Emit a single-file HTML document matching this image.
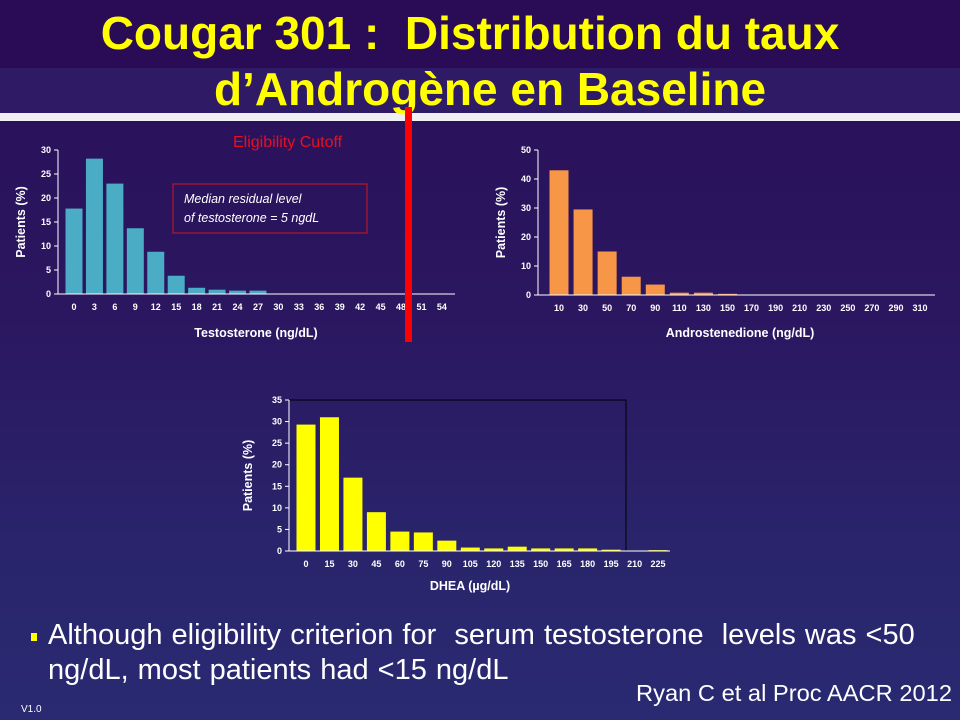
<!DOCTYPE html>
<html><head><meta charset="utf-8">
<style>
html,body{margin:0;padding:0}
body{width:960px;height:720px;overflow:hidden;position:relative;font-family:"Liberation Sans",sans-serif;
background:linear-gradient(180deg,#2a0f58 0px,#2b1660 300px,#29256c 560px,#292a72 720px)}
.t{position:absolute;color:#ffff00;font-family:"Liberation Sans Narrow","Liberation Sans",sans-serif;font-weight:bold;font-size:46px;text-align:center;width:960px;left:-10px;white-space:nowrap}
</style></head><body>
<div style="position:absolute;left:0;top:0;width:960px;height:68px;background:#2a0b55"></div>
<div style="position:absolute;left:0;top:68px;width:960px;height:45px;background:#2f1a66"></div>
<div style="position:absolute;left:0;top:113px;width:960px;height:8px;background:#f0f0f4"></div>
<div class="t" style="top:6px">Cougar 301 :&nbsp; Distribution du taux</div>
<div class="t" style="top:62px;left:10px">d’Androgène en Baseline</div>
<svg width="960" height="720" style="position:absolute;left:0;top:0" font-family="Liberation Sans, sans-serif">
<g id="c1"></g>
<g id="c2"></g>
<g id="c3"></g>
<rect x="173" y="184" width="194" height="49" fill="none" stroke="#d01818" stroke-width="1"/>
<text x="184" y="203" fill="#fff" font-size="12.5" font-style="italic">Median residual level</text>
<text x="184" y="222" fill="#fff" font-size="12.5" font-style="italic">of testosterone = 5 ngdL</text>
<text x="233" y="147" fill="#e8101c" font-size="16">Eligibility Cutoff</text>
<rect x="405" y="107" width="7" height="235" fill="#ff0000"/>
</svg>
<div style="position:absolute;left:31px;top:633px;width:6px;height:8px;background:#ffff00"></div>
<div style="position:absolute;left:48px;top:618px;width:1000px;color:#fff;font-family:'Liberation Sans Narrow','Liberation Sans',sans-serif;font-size:29px;line-height:35px;white-space:nowrap;word-spacing:1px">Although eligibility criterion for&nbsp; serum testosterone&nbsp; levels was &lt;50<br>ng/dL, most patients had &lt;15 ng/dL</div>
<div style="position:absolute;left:636px;top:680px;color:#fff;font-family:'Liberation Sans Narrow','Liberation Sans',sans-serif;font-size:23px;white-space:nowrap;transform:scaleX(1.03);transform-origin:0 0">Ryan C et al Proc AACR 2012</div>
<div style="position:absolute;left:21px;top:704px;color:#fff;font-family:'Liberation Sans Narrow','Liberation Sans',sans-serif;font-size:10px">V1.0</div>
<script>
const testoCats=["0","3","6","9","12","15","18","21","24","27","30","33","36","39","42","45","48","51","54"];
const testoVals=[17.8,28.2,23,13.7,8.8,3.8,1.3,0.9,0.7,0.7,0,0,0,0,0,0,0,0,0];
const testoTicks=[0,5,10,15,20,25,30];
const androCats=["10","30","50","70","90","110","130","150","170","190","210","230","250","270","290","310"];
const androVals=[43,29.5,15,6.3,3.6,0.8,0.8,0.4,0,0,0,0,0,0,0,0];
const androTicks=[0,10,20,30,40,50];
const dheaCats=["0","15","30","45","60","75","90","105","120","135","150","165","180","195","210","225"];
const dheaVals=[29.3,31,17,9,4.5,4.3,2.4,0.8,0.6,1,0.6,0.6,0.6,0.3,0,0.2];
const dheaTicks=[0,5,10,15,20,25,30,35];
const NS="http://www.w3.org/2000/svg";
function mk(p,t,a,txt){const e=document.createElementNS(NS,t);for(const k in a)e.setAttribute(k,a[k]);if(txt!==undefined)e.textContent=txt;p.appendChild(e);return e;}
function chart(id,cats,vals,ticks,o){
  const g=document.getElementById(id);
  const ymax=ticks[ticks.length-1];
  const y=v=>o.y0-(v/ymax)*(o.y0-o.yt);
  const x=i=>o.xf+i*o.step;
  if(o.frame){const f=mk(g,'path',{d:`M${o.ax},${o.yt}H${o.fr}V${o.y0}`,fill:'none',stroke:'#000','stroke-width':1});
    }
  cats.forEach((c,i)=>{
    const b=mk(g,'rect',{x:x(i)-o.bw/2,y:y(vals[i]),width:o.bw,height:o.y0-y(vals[i]),fill:o.color});
    
    
    const t=mk(g,'text',{x:x(i),y:o.y0+16,'text-anchor':'middle',fill:'#fff','font-size':9,'font-weight':'bold'},c);
    
    
  });
  const ax=mk(g,'path',{d:`M${o.ax},${o.yt}V${o.y0}H${o.xe}`,fill:'none',stroke:'#fff','stroke-width':1});
  
  
  ticks.forEach(v=>{
    mk(g,'line',{x1:o.ax-4,x2:o.ax,y1:y(v),y2:y(v),stroke:'#fff'});
    const t=mk(g,'text',{x:o.ax-7,y:y(v)+3,'text-anchor':'end',fill:'#fff','font-size':9,'font-weight':'bold'},v);
    
    
  });
  const xt=mk(g,'text',{x:o.xtx,y:o.xty,'text-anchor':'middle',fill:'#fff','font-size':12.5,'font-weight':'bold'},o.xtitle);
  
  
  const yt=mk(g,'text',{transform:`translate(${o.ytx},${(o.y0+o.yt)/2}) rotate(-90)`,'text-anchor':'middle',fill:'#fff','font-size':12.5,'font-weight':'bold'},'Patients (%)');
  
  
}
chart('c1',testoCats,testoVals,testoTicks,{ax:58,y0:294,yt:150,xf:74,step:20.44,bw:17,xe:455,color:'#4bacc6',xtitle:'Testosterone (ng/dL)',xtx:256,xty:337,ytx:25});
chart('c2',androCats,androVals,androTicks,{ax:538,y0:295,yt:150,xf:559,step:24.07,bw:19,xe:935,color:'#f79646',xtitle:'Androstenedione (ng/dL)',xtx:740,xty:337,ytx:505});
chart('c3',dheaCats,dheaVals,dheaTicks,{ax:289,y0:551,yt:400,xf:306,step:23.47,bw:19,xe:670,color:'#ffff00',xtitle:'DHEA (µg/dL)',xtx:470,xty:590,ytx:252,frame:true,fr:626});
</script>
</body></html>
